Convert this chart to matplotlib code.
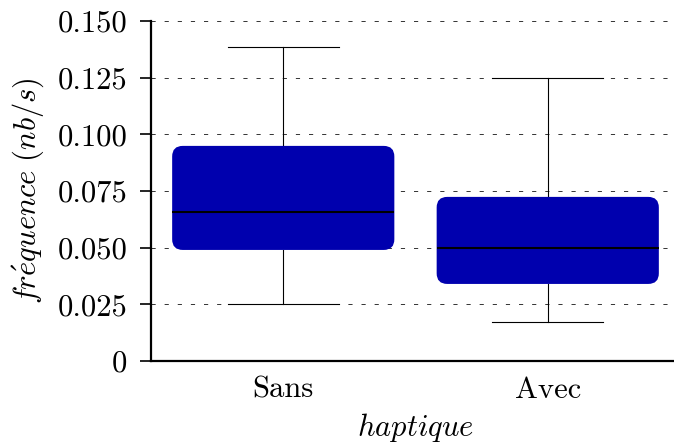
import matplotlib
matplotlib.use('Agg')
import matplotlib.pyplot as plt
from matplotlib.patches import FancyBboxPatch

groups = ['Sans', 'Avec']
whislo = [0.025, 0.0172]
q1 = [0.049, 0.034]
med = [0.0657, 0.050]
q3 = [0.0949, 0.0724]
whishi = [0.1385, 0.125]
yticks = [0, 0.025, 0.05, 0.075, 0.1, 0.125, 0.15]
ytick_labels = ['0', '0.025', '0.050', '0.075', '0.100', '0.125', '0.150']

plt.rcParams['font.family'] = 'serif'
plt.rcParams['font.serif'] = ['cmr10']
plt.rcParams['mathtext.fontset'] = 'cm'
plt.rcParams['axes.formatter.use_mathtext'] = True

W, H = 674, 446
fig = plt.figure(figsize=(W / 100, H / 100), dpi=100)
ax = fig.add_axes([151 / W, 85 / H, 529 / W, 340 / H])

pos = [1, 2]
bw = 0.84
stats = []
for g, a, b, c, d, e in zip(groups, whislo, q1, med, q3, whishi):
    stats.append(dict(label=g, whislo=a, q1=b, med=c, q3=d, whishi=e))

bp = ax.bxp(stats, positions=pos, widths=bw, capwidths=0.42, showfliers=False,
            whiskerprops=dict(color='black', linewidth=0.8),
            capprops=dict(color='black', linewidth=0.8),
            medianprops=dict(color='black', linewidth=1.5, zorder=4),
            boxprops=dict(visible=False))

# rounded boxes (aspect-corrected rounding)
aspect = (529 / 2.0) / (340 / 0.15)
for p, lo, hi in zip(pos, q1, q3):
    box = FancyBboxPatch((p - bw / 2, lo), bw, hi - lo,
                         boxstyle='round,pad=0,rounding_size=0.04',
                         mutation_aspect=aspect,
                         facecolor='#0000ae', edgecolor='none', zorder=3)
    ax.add_patch(box)

ax.set_xlim(0.5, 2.5)
ax.set_ylim(0, 0.15)
ax.set_yticks(yticks)
ax.set_yticklabels(ytick_labels)
ax.set_xticks(pos)
ax.set_xticklabels(groups)

ax.tick_params(axis='y', direction='out', length=8, width=1.2, pad=9, labelsize=22)
ax.tick_params(axis='x', length=0, pad=11, labelsize=22)

ax.spines['top'].set_visible(False)
ax.spines['right'].set_visible(False)
ax.spines['left'].set_linewidth(1.6)
ax.spines['bottom'].set_linewidth(1.6)

ax.yaxis.grid(True, linestyle=(0, (4.3, 9.2)), color='#333333', linewidth=0.7)
ax.set_axisbelow(True)

ax.set_ylabel(r'$\mathit{fr\acute{e}quence\ (nb/s)}$', fontsize=22)
ax.yaxis.set_label_coords(-0.199, 0.5)
ax.set_xlabel(r'$\mathit{haptique}$', fontsize=22, va='top')
ax.xaxis.set_label_coords(0.5, -0.148)

plt.savefig('out.png', dpi=100)
